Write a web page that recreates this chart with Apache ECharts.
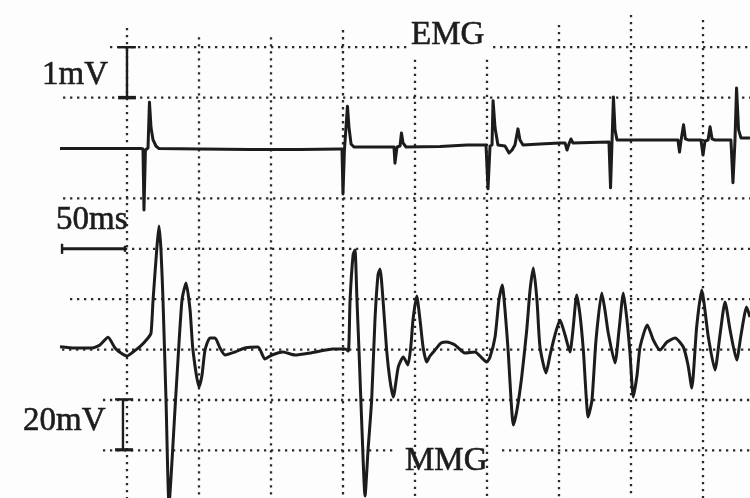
<!DOCTYPE html>
<html>
<head>
<meta charset="utf-8">
<script src="https://cdn.jsdelivr.net/npm/echarts@6/dist/echarts.min.js"></script>
<style>
html,body{margin:0;padding:0;background:#fdfdfd;}
#c{width:750px;height:498px;}
</style>
</head>
<body>
<div id="c"></div>
<script>
// ---------- DATA (time in ms, amplitude in mV) ----------
// EMG trace (1 division = 1 mV)
const emgT  = [-46.5,-18.8,9.7,11.1,11.8,12.8,14.6,15.6,16.7,18.1,20.1,22.2,50.7,85.4,120.1,147.9,149.3,150.0,151.0,152.1,153.1,154.2,155.6,157.6,175.7,185.4,186.1,187.5,189.6,190.6,191.7,193.8,217.4,236.1,249.3,250.7,252.1,253.5,254.2,255.6,257.6,262.5,265.3,267.4,269.4,271.5,272.9,275.0,286.8,300.7,304.2,305.6,306.9,308.3,309.7,321.5,334.7,335.8,336.8,337.8,338.9,340.3,356.3,382.6,383.7,384.7,386.5,387.8,389.6,398.6,400.0,401.4,403.5,404.9,406.3,408.3,419.4,420.8,422.2,423.3,424.7,426.4,432.6];
const emgMV = [-0.01,-0.01,-0.01,-0.02,-1.23,-0.04,0,0.91,0.40,0.16,0.04,-0.01,-0.02,-0.03,-0.03,-0.02,-0.02,-0.91,-0.04,-0.04,0.83,0.40,0.08,0.02,0.02,0.02,-0.30,0.02,0.04,0.30,0.10,0.02,0.03,0.06,0.06,-0.81,0.04,0.06,0.94,0.40,0.06,0.04,-0.10,-0.04,0.06,0.38,0.16,0.06,0.08,0.10,0.10,-0.04,0.08,0.18,0.10,0.11,0.12,-0.79,0.10,1.01,0.36,0.16,0.16,0.16,-0.08,0.14,0.46,0.18,0.16,0.16,-0.14,0.14,0.16,0.42,0.18,0.16,0.16,-0.69,0.14,1.19,0.36,0.20,0.20];

// MMG trace (1 division = 20 mV)
const mmgT  = [-46.5,-36.1,-24.3,-18.8,-13.2,-8.3,-4.2,0,4.2,9.0,14.6,16.7,18.1,20.8,22.2,23.6,25.0,27.1,29.2,31.3,33.3,35.4,38.2,41.0,43.8,45.8,50.0,52.1,54.2,57.6,61.1,64.6,68.1,75.0,81.9,91.0,95.8,100.7,108.3,116.7,127.1,143.1,151.4,153.7,154.9,157.0,158.3,159.7,161.1,163.2,165.3,167.4,169.9,172.2,174.3,175.7,177.8,180.3,182.6,184.9,188.4,191.9,195.1,197.2,198.6,201.2,203.5,205.6,208.1,210.4,213.9,218.1,222.0,227.8,234.7,241.7,246.5,249.8,252.1,255.6,258.3,260.6,262.5,264.8,266.7,268.3,270.8,274.1,277.6,279.9,282.2,284.7,286.8,291.0,293.8,297.2,300.7,304.2,307.6,309.7,312.3,314.6,316.9,320.3,322.9,325.7,329.7,331.9,334.2,338.9,341.7,344.7,347.2,349.3,351.6,354.2,356.3,361.3,365.5,370.1,375.0,380.6,386.3,389.6,392.2,395.6,399.1,403.7,408.3,411.8,415.3,418.8,423.4,426.4,430.3,432.6];
const mmgMV = [0.91,0.40,0.40,1.59,4.64,0.40,-1.59,-2.78,-1.19,0.91,4.37,6.35,19.44,40.48,48.81,39.29,19.44,-20.24,-61.90,-44.05,-24.21,-4.37,19.44,26.19,15.48,-0.40,-15.08,-10.32,-0.40,4.37,4.37,0.40,-2.38,-1.19,0.40,0.79,-3.97,-2.38,-1.19,-2.38,-1.59,0,0,-0.79,19.44,37.30,39.29,19.44,-0.40,-32.14,-58.33,-40.08,-20.24,11.51,29.37,31.75,19.44,-0.40,-12.30,-19.05,-7.14,-3.17,-6.35,1.59,11.51,21.03,11.51,0.79,-5.16,-2.78,-0.40,2.38,2.78,1.59,-1.59,-1.19,-3.57,-5.16,-3.17,4.76,19.44,25.40,15.48,-1.59,-20.24,-30.16,-24.21,-11.11,7.54,23.41,32.14,19.44,0.79,-9.52,-2.38,5.56,11.51,5.56,-1.19,7.54,21.43,13.49,-0.40,-26.98,-20.24,3.57,22.22,15.48,6.35,-5.56,7.54,22.22,11.51,-1.59,-19.05,-10.32,0.79,9.52,3.57,-0.40,2.78,4.37,0.79,-6.35,-15.48,8.73,23.41,4.76,-8.33,5.56,18.65,7.54,-4.37,5.56,16.67,12.70];

// Oscilloscope grid (columns every 50 ms; rows in divisions of the EMG scale)
const gridColumnsMs   = [0, 50, 100, 150, 200, 250, 300, 350, 400];
const gridColumnTops  = [2.38, 2.20, 2.20, 2.34, 1.75, 1.75, 2.44, 2.64, 2.54];
const gridColumnBottom = -7;
const gridRowLevels = [2, 2, 1, -1, -2, -3, -4, -5, -6, -6];
const gridRowStart  = [-11.8, 254.2, -44.4, -44.4, -1.4, -39.6, -45.1, -16.7, -16.7, 260.4];
const gridRowEnd    = [195.1, 432.6, 432.6, 432.6, 432.6, 432.6, 432.6, 432.6, 187.5, 432.6];

// Calibration bars
const barEmg1mV  = {t: 0, from: 2, to: 1, capL: -6.2, capR: 6.2};      // 1 mV (EMG scale)
const bar50ms    = {level: -2, from: -45.1, to: -1.4, cap: 0.1};      // 50 ms
const barMmg20mV = {t: -2.8, from: -20, to: -40, capL: -8.3, capR: 4.2}; // 20 mV (MMG scale)

const labels = ['1mV', 'EMG', '50ms', '20mV', 'MMG'];

// ---------- CHART ----------
const ink = '#1c1c1c';
const dotStyle = {color: '#2b2b2b', width: 2.3, type: [2.3, 4.7]};
const zip = (a, b) => a.map((v, i) => [v, b[i]]);

function seg(points, yIdx, style, z) {
  return {type: 'line', data: points, yAxisIndex: yIdx, symbol: 'none', silent: true,
          lineStyle: style, z: z, animation: false};
}

const series = [];
gridColumnsMs.forEach((t, i) => series.push(seg([[t, gridColumnTops[i]], [t, gridColumnBottom]], 0, dotStyle, 1)));
gridRowLevels.forEach((lv, i) => series.push(seg([[gridRowStart[i], lv], [gridRowEnd[i], lv]], 0, dotStyle, 1)));

const barStyle = {color: ink, width: 2.4, type: 'solid'};
series.push(seg([[barEmg1mV.t, barEmg1mV.from], [barEmg1mV.t, barEmg1mV.to]], 0, barStyle, 3));
series.push(seg([[barEmg1mV.capL, barEmg1mV.from], [barEmg1mV.capR, barEmg1mV.from]], 0, barStyle, 3));
series.push(seg([[barEmg1mV.capL, barEmg1mV.to], [barEmg1mV.capR, barEmg1mV.to]], 0, {color: ink, width: 3.5}, 3));
series.push(seg([[bar50ms.from, bar50ms.level], [bar50ms.to, bar50ms.level]], 0, {color: ink, width: 3}, 3));
series.push(seg([[bar50ms.from, bar50ms.level + bar50ms.cap], [bar50ms.from, bar50ms.level - bar50ms.cap]], 0, barStyle, 3));
series.push(seg([[bar50ms.to, bar50ms.level + bar50ms.cap * 0.6], [bar50ms.to, bar50ms.level - bar50ms.cap * 0.6]], 0, barStyle, 3));
series.push(seg([[barMmg20mV.t, barMmg20mV.from], [barMmg20mV.t, barMmg20mV.to]], 1, barStyle, 3));
series.push(seg([[barMmg20mV.capL, barMmg20mV.from], [barMmg20mV.capR, barMmg20mV.from]], 1, barStyle, 3));
series.push(seg([[barMmg20mV.capL, barMmg20mV.to], [barMmg20mV.capR, barMmg20mV.to]], 1, {color: ink, width: 3.2}, 3));

series.push({type: 'line', name: 'EMG', data: zip(emgT, emgMV), yAxisIndex: 0, symbol: 'none',
  lineStyle: {color: ink, width: 3, join: 'round'}, z: 5, silent: true});
series.push({type: 'line', name: 'MMG', data: zip(mmgT, mmgMV), yAxisIndex: 1, symbol: 'none', smooth: 0.2,
  lineStyle: {color: ink, width: 3, join: 'round'}, z: 5, silent: true});

const font = '"Liberation Serif", "DejaVu Serif", serif';
function txt(text, x, y) {
  return {type: 'text', x: x, y: y, z: 10,
    style: {text: text, fill: ink, stroke: ink, lineWidth: 0.6,
            font: '33px ' + font, textAlign: 'left', textVerticalAlign: 'middle'}};
}

const chart = echarts.init(document.getElementById('c'), null, {renderer: 'canvas'});
chart.setOption({
  animation: false,
  backgroundColor: '#fdfdfd',
  grid: {left: 0, right: 0, top: 0, bottom: 0},
  xAxis: {type: 'value', min: -88.19, max: 432.64, show: false},
  yAxis: [
    {type: 'value', min: -6.944, max: 2.937, show: false},
    {type: 'value', min: -59.13, max: 138.49, show: false}
  ],
  series: series,
  graphic: [
    txt(labels[0], 42, 75),
    txt(labels[1], 411, 35),
    txt(labels[2], 56, 220),
    txt(labels[3], 23, 421),
    txt(labels[4], 405, 461)
  ]
});
</script>
</body>
</html>
